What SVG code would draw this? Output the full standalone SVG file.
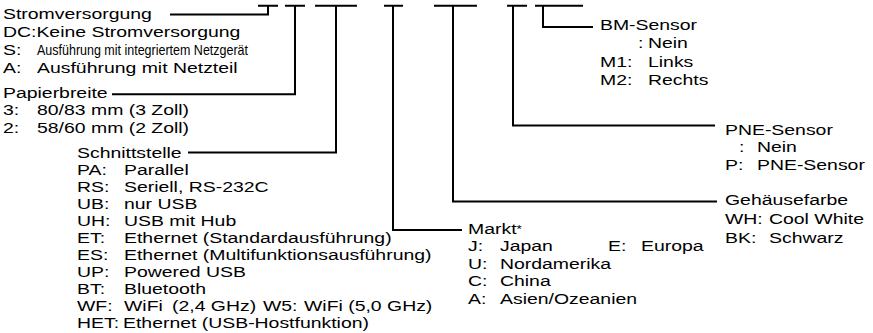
<svg xmlns="http://www.w3.org/2000/svg" width="873" height="333" viewBox="0 0 873 333">
<style>
text{font-family:"Liberation Sans",Arial,sans-serif;font-size:14.5px;fill:#000}
.c{fill:none;stroke:#000;stroke-width:2}
</style>
<rect width="873" height="333" fill="#fff"/>
<g id="connectors" class="c">
<path d="M258 5.7H278M285 5.7H305M315 5.7H357M384 5.7H403M434 5.7H477M507 5.7H527M535 5.7H583"/>
<path d="M170 14.5H268V5.7"/>
<path d="M112 94.3H295V5.7"/>
<path d="M188 152.5H336V5.7"/>
<path d="M393 5.7V230H462"/>
<path d="M453 5.7V201.5H717"/>
<path d="M513 5.7V125.5H715"/>
<path d="M543 5.7V27H593"/>
</g>
<g id="stromversorgung">
<text transform="translate(3,19) scale(1.34,1)">Stromversorgung</text>
<text transform="translate(3,37) scale(1.34,1)">DC:Keine Stromversorgung</text>
<text transform="translate(3,55) scale(1.34,1)">S:</text>
<text x="37" y="55" textLength="211" lengthAdjust="spacingAndGlyphs">Ausführung mit integriertem Netzgerät</text>
<text transform="translate(3,72.5) scale(1.34,1)">A:</text>
<text transform="translate(37,72.5) scale(1.34,1)">Ausführung mit Netzteil</text>
</g>
<g id="papierbreite">
<text transform="translate(3,97.5) scale(1.34,1)">Papierbreite</text>
<text transform="translate(3,115) scale(1.34,1)">3:</text>
<text transform="translate(37,115) scale(1.34,1)">80/83 mm (3 Zoll)</text>
<text transform="translate(3,132.5) scale(1.34,1)">2:</text>
<text transform="translate(37,132.5) scale(1.34,1)">58/60 mm (2 Zoll)</text>
</g>
<g id="schnittstelle">
<text transform="translate(77,157.5) scale(1.34,1)">Schnittstelle</text>
<text transform="translate(77,174.5) scale(1.34,1)">PA:</text>
<text transform="translate(124,174.5) scale(1.34,1)">Parallel</text>
<text transform="translate(77,191.5) scale(1.34,1)">RS:</text>
<text transform="translate(124,191.5) scale(1.34,1)">Seriell, RS-232C</text>
<text transform="translate(77,208.5) scale(1.34,1)">UB:</text>
<text transform="translate(124,208.5) scale(1.34,1)">nur USB</text>
<text transform="translate(77,225.5) scale(1.34,1)">UH:</text>
<text transform="translate(124,225.5) scale(1.34,1)">USB mit Hub</text>
<text transform="translate(77,242.5) scale(1.34,1)">ET:</text>
<text transform="translate(124,242.5) scale(1.34,1)">Ethernet (Standardausführung)</text>
<text transform="translate(77,259.5) scale(1.34,1)">ES:</text>
<text transform="translate(124,259.5) scale(1.34,1)">Ethernet (Multifunktionsausführung)</text>
<text transform="translate(77,276.5) scale(1.34,1)">UP:</text>
<text transform="translate(124,276.5) scale(1.34,1)">Powered USB</text>
<text transform="translate(77,293.5) scale(1.34,1)">BT:</text>
<text transform="translate(124,293.5) scale(1.34,1)">Bluetooth</text>
<text transform="translate(77,310.5) scale(1.34,1)">WF:</text>
<text transform="translate(124,310.5) scale(1.34,1)">WiFi</text>
<text transform="translate(172,310.5) scale(1.34,1)">(2,4 GHz)</text>
<text transform="translate(263,310.5) scale(1.34,1)">W5:</text>
<text transform="translate(304,310.5) scale(1.34,1)">WiFi (5,0 GHz)</text>
<text transform="translate(77,327.5) scale(1.34,1)">HET:</text>
<text transform="translate(123,327.5) scale(1.34,1)">Ethernet (USB-Hostfunktion)</text>
</g>
<g id="markt">
<text transform="translate(468,234) scale(1.34,1)">Markt<tspan font-size="10" dy="-1">*</tspan></text>
<text transform="translate(468,251) scale(1.34,1)">J:</text>
<text transform="translate(500,251) scale(1.34,1)">Japan</text>
<text transform="translate(608,251) scale(1.34,1)">E:</text>
<text transform="translate(641,251) scale(1.34,1)">Europa</text>
<text transform="translate(468,268.7) scale(1.34,1)">U:</text>
<text transform="translate(500,268.7) scale(1.34,1)">Nordamerika</text>
<text transform="translate(468,286.3) scale(1.34,1)">C:</text>
<text transform="translate(500,286.3) scale(1.34,1)">China</text>
<text transform="translate(468,304) scale(1.34,1)">A:</text>
<text transform="translate(500,304) scale(1.34,1)">Asien/Ozeanien</text>
</g>
<g id="gehaeusefarbe">
<text transform="translate(725,205) scale(1.34,1)">Gehäusefarbe</text>
<text transform="translate(725,224) scale(1.34,1)">WH:</text>
<text transform="translate(769,224) scale(1.34,1)">Cool White</text>
<text transform="translate(725,243) scale(1.34,1)">BK:</text>
<text transform="translate(769,243) scale(1.34,1)">Schwarz</text>
</g>
<g id="pne-sensor">
<text transform="translate(725,134.5) scale(1.34,1)">PNE-Sensor</text>
<text transform="translate(739,152) scale(1.34,1)">:</text>
<text transform="translate(757,152) scale(1.34,1)">Nein</text>
<text transform="translate(725,169.5) scale(1.34,1)">P:</text>
<text transform="translate(757,169.5) scale(1.34,1)">PNE-Sensor</text>
</g>
<g id="bm-sensor">
<text transform="translate(600,30) scale(1.34,1)">BM-Sensor</text>
<text transform="translate(638,48) scale(1.34,1)">:</text>
<text transform="translate(648,48) scale(1.34,1)">Nein</text>
<text transform="translate(600,66.5) scale(1.34,1)">M1:</text>
<text transform="translate(648,66.5) scale(1.34,1)">Links</text>
<text transform="translate(600,85) scale(1.34,1)">M2:</text>
<text transform="translate(648,85) scale(1.34,1)">Rechts</text>
</g>
</svg>
